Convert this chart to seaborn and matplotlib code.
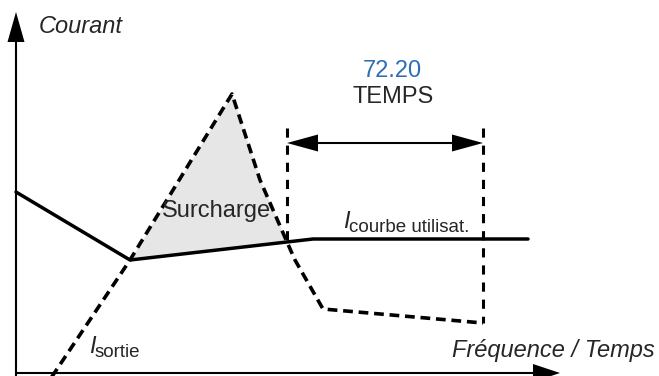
import numpy as np
import pandas as pd
import matplotlib
matplotlib.use("Agg")
import matplotlib.pyplot as plt
import seaborn as sns

# Current limit curve of the user load curve (solid)
courbe_x = [0, 114, 297, 512]
courbe_y = [181, 113, 134, 134]

# Output current (dashed): rises through the overload peak, then drops
sortie_x = [35, 114, 216, 244, 271, 279, 307, 467]
sortie_y = [-5, 113, 279, 193, 131, 113, 64, 50]

# Time window of parameter 72.20
temps_start = 271
temps_end = 467
temps_top = 245
temps_arrow_y = 230
temps_param = "72.20"
temps_label = "TEMPS"

sns.set_style("white")
plt.rcParams["font.family"] = ["Liberation Sans", "DejaVu Sans"]

fig = plt.figure(figsize=(6.59, 3.76), dpi=100)
ax = fig.add_axes([0, 0, 1, 1])
ax.set_xlim(-16, 643)
ax.set_ylim(-3, 373)
ax.axis("off")

courbe = pd.DataFrame({"t": courbe_x, "i": courbe_y})
sortie = pd.DataFrame({"t": sortie_x, "i": sortie_y})

# Overload area: between the output current and the load curve
xs = np.array([x for x in sortie_x if courbe_x[1] <= x <= temps_start], dtype=float)
upper = np.interp(xs, sortie_x, sortie_y)
lower = np.interp(xs, courbe_x, courbe_y)
ax.fill_between(xs, lower, np.maximum(upper, lower), color="#e6e6e6",
                linewidth=0, zorder=1)

sns.lineplot(data=courbe, x="t", y="i", sort=False, estimator=None,
             color="black", linewidth=2.5, ax=ax, zorder=3)
sns.lineplot(data=sortie, x="t", y="i", sort=False, estimator=None,
             color="black", linewidth=2.6, linestyle=(0, (2.7, 1.6)),
             ax=ax, zorder=3)

# Time window markers
win = pd.DataFrame({
    "t": [temps_start, temps_start, temps_end, temps_end],
    "i": [temps_top, np.interp(temps_start, courbe_x, courbe_y),
          temps_top, np.interp(temps_end, sortie_x, sortie_y)],
    "side": ["a", "a", "b", "b"],
})
for _, g in win.groupby("side"):
    ax.plot(g["t"], g["i"], color="black", linewidth=2.2,
            linestyle=(0, (3.0, 2.6)), zorder=3)

# Double-headed arrow of the time window
ax.plot([temps_start + 20, temps_end - 20], [temps_arrow_y] * 2,
        color="black", linewidth=1.5, zorder=3)
ax.fill([temps_start, temps_start + 31, temps_start + 31],
        [temps_arrow_y, temps_arrow_y + 8.5, temps_arrow_y - 8.5],
        color="black", linewidth=0, zorder=4)
ax.fill([temps_end, temps_end - 31, temps_end - 31],
        [temps_arrow_y, temps_arrow_y + 8.5, temps_arrow_y - 8.5],
        color="black", linewidth=0, zorder=4)

# Axes with arrowheads
ax.plot([0, 0], [-5, 335], color="black", linewidth=1.5, zorder=4)
ax.fill([-8.5, 8.5, 0], [331, 331, 361], color="black", linewidth=0, zorder=4)
ax.plot([0, 520], [0, 0], color="black", linewidth=1.5, zorder=4)
ax.fill([517, 517, 544], [-9, 9, 0], color="black", linewidth=0, zorder=4)

# Labels
fs = 17
ax.text(23, 340, "Courant", fontsize=fs, style="italic", va="baseline", ha="left")
ax.text(639, 16, "Fréquence / Temps", fontsize=fs, style="italic",
        va="baseline", ha="right")
ax.text(376, 296, temps_param, fontsize=fs, color="#2E6DB4",
        va="baseline", ha="center")
ax.text(377, 270, temps_label, fontsize=fs, va="baseline", ha="center")
ax.text(200, 156, "Surcharge", fontsize=fs, va="baseline", ha="center", zorder=5)

ax.text(73, 20, "I", fontsize=fs, style="italic", va="baseline", ha="left")
ax.text(79, 16, "sortie", fontsize=13.5, va="baseline", ha="left")
ax.text(327, 145, "I", fontsize=fs, style="italic", va="baseline", ha="left")
ax.text(333, 141, "courbe utilisat.", fontsize=13.5, va="baseline", ha="left")

fig.savefig("out.png", dpi=100)
